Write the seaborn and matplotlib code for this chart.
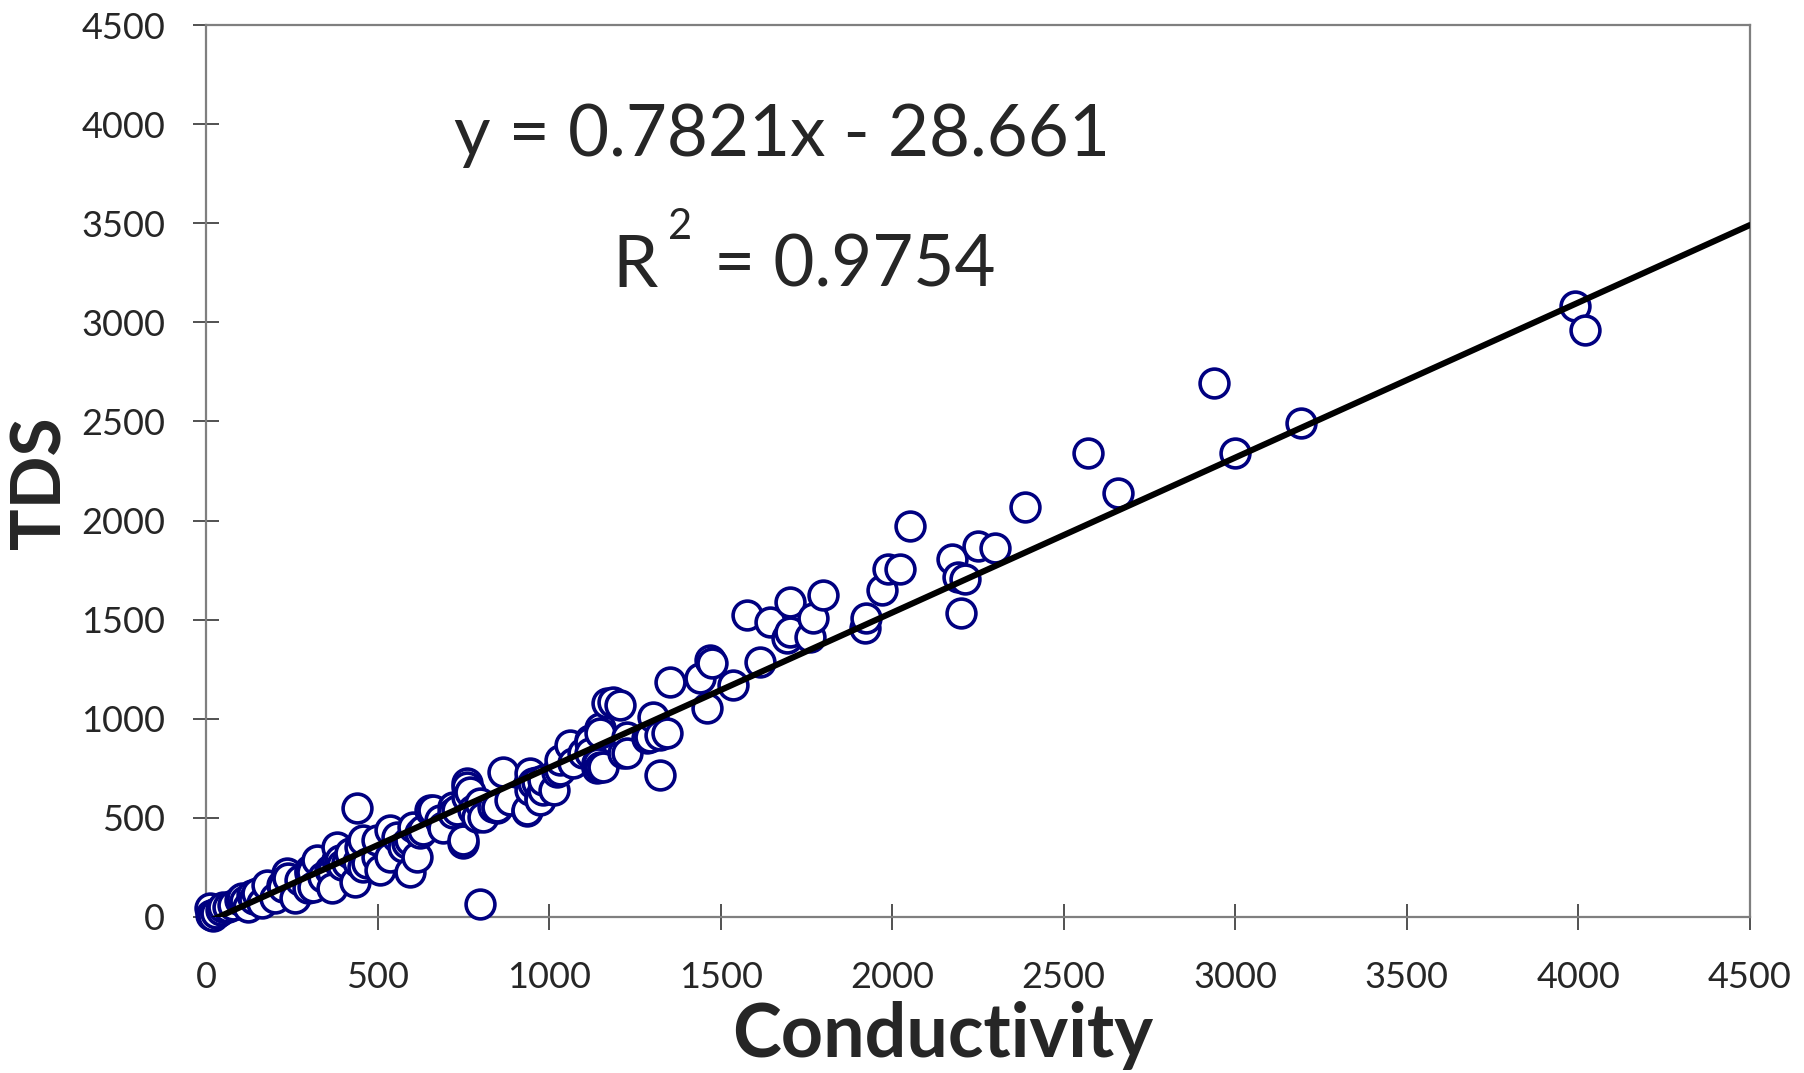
import numpy as np
import pandas as pd
import seaborn as sns
import matplotlib.pyplot as plt

# data (Conductivity vs TDS)
conductivity = [
    12, 36, 15, 21, 30, 45, 50, 65, 80, 99, 104, 115, 123, 133, 140, 148, 162,
    177, 201, 221, 225, 235, 240, 259, 274, 298, 303, 303, 308, 313, 323, 342,
    361, 366, 366, 381, 381, 390, 396, 410, 420, 434, 439, 444, 449, 459, 459,
    468, 497, 497, 507, 536, 536, 556, 575, 585, 595, 595, 604, 614, 624, 633,
    653, 663, 682, 692, 692, 721, 721, 731, 750, 750, 760, 760, 760, 769, 779,
    789, 798, 798, 808, 837, 847, 847, 867, 886, 935, 935, 944, 944, 944, 954,
    964, 973, 973, 983, 983, 1013, 1022, 1032, 1032, 1061, 1071, 1100, 1119,
    1119, 1119, 1139, 1139, 1143, 1148, 1148, 1148, 1158, 1168, 1187, 1207,
    1216, 1226, 1226, 1284, 1294, 1304, 1323, 1323, 1343, 1352, 1440, 1459,
    1469, 1474, 1537, 1576, 1615, 1644, 1692, 1702, 1702, 1760, 1770, 1799,
    1920, 1925, 1969, 1989, 2023, 2052, 2173, 2193, 2200, 2212, 2251, 2300,
    2387, 2571, 2659, 2937, 2999, 3193, 3990, 4020,
]
tds = [
    44, 27, 10, 5, 20, 35, 52, 52, 60, 86, 94, 80, 52, 111, 90, 119, 69,
    160, 94, 161, 153, 220, 195, 94, 187, 145, 220, 237, 229, 153, 288, 203,
    237, 229, 145, 288, 355, 288, 262, 271, 321, 178, 548, 279, 355, 388, 254,
    271, 304, 388, 237, 439, 304, 405, 355, 372, 229, 388, 456, 304, 422, 439,
    540, 540, 489, 456, 447, 556, 523, 540, 372, 388, 674, 657, 607, 632, 540,
    506, 574, 64, 506, 556, 548, 556, 733, 590, 534, 540, 691, 725, 641, 674,
    683, 607, 590, 641, 691, 641, 733, 742, 792, 868, 775, 826, 893,
    884, 826, 775, 750, 775, 952, 927, 758, 758, 1078, 1086, 1070,
    826, 909, 826, 901, 909, 1010, 918, 716, 927, 1187, 1204, 1053,
    1297, 1283, 1170, 1524, 1288, 1490, 1406, 1591, 1439, 1414, 1507, 1624,
    1456, 1507, 1650, 1754, 1754, 1973, 1804, 1717, 1535, 1704, 1872, 1860,
    2070, 2339, 2141, 2693, 2339, 2494, 3082, 2960,
]

# trendline from the chart label
SLOPE = 0.7821
INTERCEPT = -28.661
ticks = [0, 500, 1000, 1500, 2000, 2500, 3000, 3500, 4000, 4500]

sns.set_style("ticks")
plt.rcParams['font.family'] = ['Lato', 'DejaVu Sans']

df = pd.DataFrame({'Conductivity': conductivity, 'TDS': tds})

fig = plt.figure(figsize=(18.04, 10.73), dpi=100)
ax = fig.add_axes([0.1142, 0.1454, 0.8558, 0.8313])

sns.scatterplot(data=df, x='Conductivity', y='TDS', ax=ax, s=430,
                facecolor='white', edgecolor='#000080', linewidth=2.6,
                clip_on=False, zorder=3)

x_fit = np.array([min(conductivity), ticks[-1]])
ax.plot(x_fit, SLOPE * x_fit + INTERCEPT, color='black', lw=4.4, zorder=4)

ax.set_xlim(0, 4500)
ax.set_ylim(0, 4500)
ax.set_xticks(ticks)
ax.set_yticks(ticks)
ax.tick_params(direction='inout', length=19, width=1.1, color='#222222',
               labelsize=26)
ax.tick_params(axis='y', pad=20)
ax.tick_params(axis='x', pad=22)
for side in ['top', 'right', 'left', 'bottom']:
    ax.spines[side].set_visible(True)
    ax.spines[side].set_color('#7f7f7f')
    ax.spines[side].set_linewidth(1.6)

ax.set_xlabel('')
ax.set_ylabel('')
fig.text(0.0227, 0.5499, 'TDS', rotation=90, ha='center', va='center',
         fontsize=50, fontweight='bold')
fig.text(0.5227, 0.0354, 'Conductivity', ha='center', va='center',
         fontsize=53, fontweight='bold')

# regression annotation
ax.text(0.3734, 0.8527, 'y = 0.7821x - 28.661', transform=ax.transAxes,
        ha='center', va='baseline', fontsize=51)
ax.text(0.2630, 0.7065, 'R', transform=ax.transAxes,
        ha='left', va='baseline', fontsize=52)
ax.text(0.2990, 0.7605, '2', transform=ax.transAxes,
        ha='left', va='baseline', fontsize=30)
ax.text(0.3290, 0.7065, '= 0.9754', transform=ax.transAxes,
        ha='left', va='baseline', fontsize=51)

fig.savefig('out.png', dpi=100)
